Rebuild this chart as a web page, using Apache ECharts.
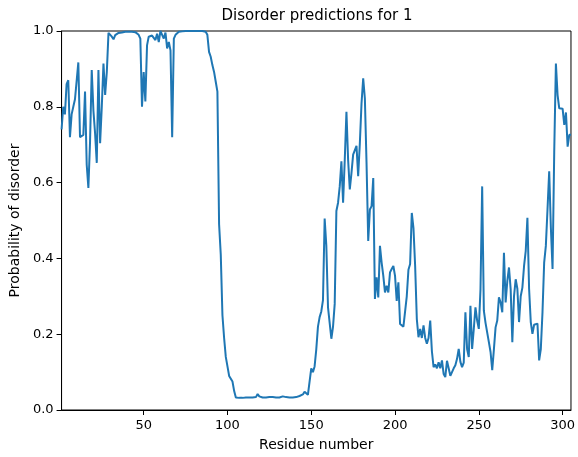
<!DOCTYPE html>
<html>
<head>
<meta charset="utf-8">
<script src="https://cdn.jsdelivr.net/npm/echarts@6/dist/echarts.min.js"></script>
<style>
html,body{margin:0;padding:0;background:#fff;}
#chart{width:578px;height:457px;}
</style>
</head>
<body>
<div id="chart"></div>
<script>
const titleText = 'Disorder predictions for 1';
const xLabel = 'Residue number';
const yLabel = 'Probability of disorder';
const xTicks = [50, 100, 150, 200, 250, 300];
const yTicks = [0.0, 0.2, 0.4, 0.6, 0.8, 1.0];
const firstResidue = 1;
const disorder = [
  0.74, 0.80, 0.78, 0.86, 0.87, 0.72, 0.78, 0.80, 0.82, 0.82,
  0.917, 0.72, 0.722, 0.726, 0.84, 0.647, 0.586, 0.709, 0.897, 0.79,
  0.73, 0.652, 0.897, 0.704, 0.80, 0.914, 0.831, 0.892, 0.995, 0.99,
  0.985, 0.978, 0.989, 0.99, 0.995, 0.993, 0.996, 0.997, 0.998, 0.998,
  0.998, 0.999, 0.998, 0.998, 0.997, 0.996, 0.99, 0.98, 0.80, 0.892,
  0.814, 0.962, 0.985, 0.99, 0.988, 0.991, 0.976, 0.993, 0.971, 1.0,
  0.99, 0.98, 0.996, 0.954, 0.971, 0.949, 0.72, 0.98, 0.99, 0.995,
  0.998, 0.999, 0.999, 1.0, 1.0, 1.0, 1.0, 1.0, 1.0, 1.0,
  1.0, 1.0, 1.0, 1.0, 1.0, 0.999, 0.998, 0.99, 0.945, 0.932,
  0.91, 0.892, 0.866, 0.84, 0.49, 0.41, 0.25, 0.19, 0.14, 0.135,
  0.09, 0.095, 0.075, 0.05, 0.033, 0.032, 0.032, 0.032, 0.032, 0.032,
  0.033, 0.033, 0.033, 0.033, 0.033, 0.034, 0.034, 0.042, 0.036, 0.033,
  0.033, 0.033, 0.033, 0.033, 0.034, 0.034, 0.034, 0.033, 0.033, 0.033,
  0.033, 0.033, 0.036, 0.04, 0.034, 0.033, 0.033, 0.033, 0.033, 0.033,
  0.034, 0.035, 0.037, 0.038, 0.041, 0.048, 0.043, 0.04, 0.043, 0.11,
  0.10, 0.115, 0.16, 0.22, 0.245, 0.26, 0.29, 0.505, 0.433, 0.271,
  0.268, 0.188, 0.22, 0.28, 0.525, 0.547, 0.59, 0.656, 0.547, 0.66,
  0.787, 0.66, 0.582, 0.625, 0.674, 0.67, 0.697, 0.617, 0.704, 0.809,
  0.875, 0.822, 0.65, 0.446, 0.529, 0.538, 0.612, 0.293, 0.35, 0.297,
  0.433, 0.389, 0.354, 0.31, 0.328, 0.31, 0.363, 0.372, 0.38, 0.354,
  0.288, 0.337, 0.227, 0.225, 0.22, 0.218, 0.30, 0.37, 0.385, 0.52,
  0.48, 0.38, 0.24, 0.192, 0.214, 0.19, 0.223, 0.19, 0.175, 0.19,
  0.236, 0.155, 0.113, 0.12, 0.11, 0.126, 0.11, 0.131, 0.095, 0.087,
  0.13, 0.11, 0.09, 0.087, 0.11, 0.118, 0.135, 0.161, 0.127, 0.113,
  0.125, 0.258, 0.161, 0.14, 0.275, 0.161, 0.214, 0.271, 0.236, 0.214,
  0.319, 0.59, 0.262, 0.23, 0.232, 0.179, 0.153, 0.105, 0.16, 0.218,
  0.236, 0.297, 0.284, 0.258, 0.415, 0.284, 0.34, 0.376, 0.319, 0.179,
  0.30, 0.345, 0.32, 0.232, 0.30, 0.323, 0.38, 0.42, 0.507, 0.32,
  0.232, 0.201, 0.225, 0.23, 0.228, 0.131, 0.161, 0.258, 0.389, 0.433,
  0.53, 0.63, 0.48, 0.372, 0.68, 0.914, 0.831, 0.796, 0.795, 0.795,
  0.752, 0.785, 0.695, 0.726, 0.726
];

const points = disorder.map((v, i) => [firstResidue + i, v]);
const lastResidue = firstResidue + disorder.length - 1;
const FONT = 'DejaVu Sans';

const chart = echarts.init(document.getElementById('chart'), null, {renderer: 'canvas'});
chart.setOption({
  animation: false,
  backgroundColor: '#ffffff',
  title: {
    text: titleText,
    left: 312,
    top: 4,
    textAlign: 'center',
    textStyle: {fontFamily: FONT, fontSize: 15, fontWeight: 'normal', color: '#000'}
  },
  grid: {
    left: 61, right: 6, top: 31, bottom: 45.5,
    show: true, borderColor: '#000', borderWidth: 1, backgroundColor: 'transparent'
  },
  xAxis: {
    type: 'value',
    min: firstResidue,
    max: lastResidue,
    name: xLabel,
    nameLocation: 'middle',
    nameGap: 28,
    nameTextStyle: {fontFamily: FONT, fontSize: 14, color: '#000'},
    axisLine: {show: true, onZero: false, lineStyle: {color: '#000', width: 1}},
    axisTick: {show: true, inside: false, length: 5, customValues: xTicks, lineStyle: {color: '#000', width: 1}},
    axisLabel: {customValues: xTicks, margin: 9, fontFamily: FONT, fontSize: 13, color: '#000',
      formatter: v => String(v)},
    splitLine: {show: false}
  },
  yAxis: {
    type: 'value',
    min: 0,
    max: 1,
    name: yLabel,
    nameLocation: 'middle',
    nameGap: 39,
    nameRotate: 90,
    nameTextStyle: {fontFamily: FONT, fontSize: 14, color: '#000'},
    axisLine: {show: true, onZero: false, lineStyle: {color: '#000', width: 1}},
    axisTick: {show: true, inside: false, length: 5, customValues: yTicks, lineStyle: {color: '#000', width: 1}},
    axisLabel: {customValues: yTicks, margin: 8, fontFamily: FONT, fontSize: 13, color: '#000',
      formatter: v => v.toFixed(1)},
    splitLine: {show: false}
  },
  series: [{
    type: 'line',
    data: points,
    showSymbol: false,
    symbol: 'none',
    lineStyle: {color: '#1f77b4', width: 2},
    clip: true
  }]
});
</script>
</body>
</html>
